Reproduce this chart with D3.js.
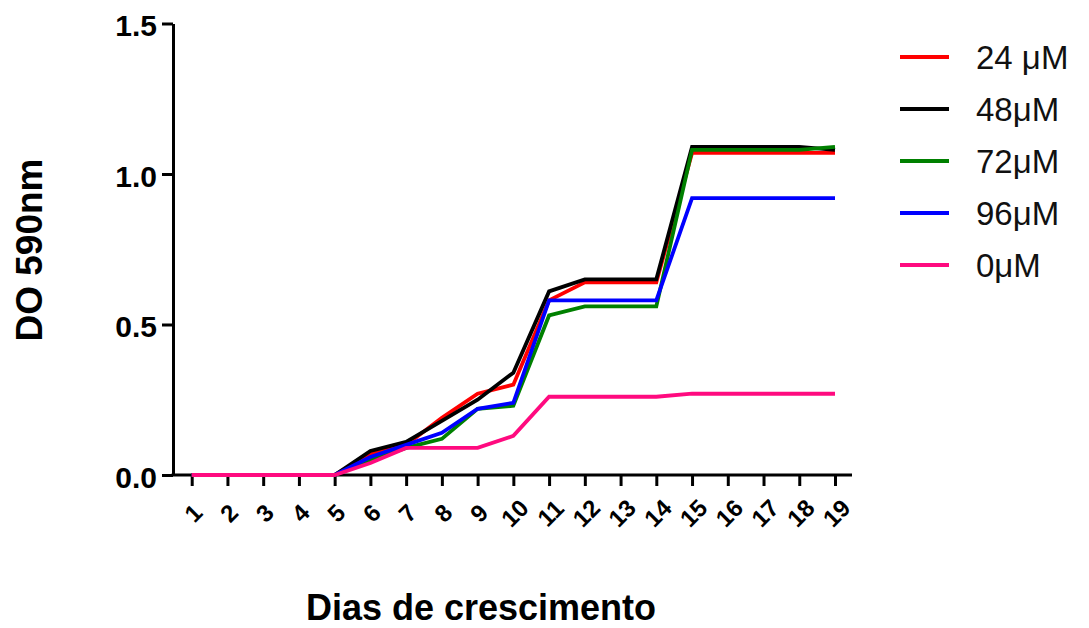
<!DOCTYPE html>
<html>
<head>
<meta charset="utf-8">
<script src="https://cdn.jsdelivr.net/npm/d3@7"></script>
<style>
  body { margin: 0; background: #fff; }
  text { font-family: Arial, "Liberation Sans", sans-serif; }
</style>
</head>
<body>
<svg width="1089" height="628"></svg>
<script>
// days of growth (x axis)
const days = [1, 2, 3, 4, 5, 6, 7, 8, 9, 10, 11, 12, 13, 14, 15, 16, 17, 18, 19]

// OD 590nm per concentration
const conc24 = [0, 0, 0, 0, 0, 0.07, 0.10, 0.19, 0.27, 0.30, 0.58, 0.64, 0.64, 0.64, 1.07, 1.07, 1.07, 1.07, 1.07]
const conc48 = [0, 0, 0, 0, 0, 0.08, 0.11, 0.18, 0.25, 0.34, 0.61, 0.65, 0.65, 0.65, 1.09, 1.09, 1.09, 1.09, 1.08]
const conc72 = [0, 0, 0, 0, 0, 0.05, 0.09, 0.12, 0.22, 0.23, 0.53, 0.56, 0.56, 0.56, 1.08, 1.08, 1.08, 1.08, 1.09]
const conc96 = [0, 0, 0, 0, 0, 0.06, 0.10, 0.14, 0.22, 0.24, 0.58, 0.58, 0.58, 0.58, 0.92, 0.92, 0.92, 0.92, 0.92]
const conc0  = [0, 0, 0, 0, 0, 0.04, 0.09, 0.09, 0.09, 0.13, 0.26, 0.26, 0.26, 0.26, 0.27, 0.27, 0.27, 0.27, 0.27]

const seriesNames = ["24 μM", "48μM", "72μM", "96μM", "0μM"]
const seriesValues = [conc24, conc48, conc72, conc96, conc0]
const yTicks = [0, 0.5, 1.0, 1.5]

const colors = ["#ff0000", "#000000", "#008000", "#0000ff", "#ff0a7f"]

const svg = d3.select("svg")

// scales
const x = d3.scaleLinear().domain([1, 19]).range([191.7, 835])
const y = d3.scaleLinear().domain([0, 1.5]).range([475, 23.5])
const axisX = 173

// y axis
const yAxis = svg.append("g")
    .attr("transform", `translate(${axisX},0)`)
    .call(d3.axisLeft(y)
        .tickValues(yTicks)
        .tickFormat(d3.format(".1f"))
        .tickSize(11)
        .tickSizeOuter(0)
        .tickPadding(5))
yAxis.select(".domain").attr("stroke-width", 3)
yAxis.selectAll(".tick line").attr("stroke-width", 3)
yAxis.selectAll(".tick text")
    .attr("font-size", 30)
    .attr("font-weight", "bold")
    .attr("dy", "0.4em")
    .attr("fill", "#000")

// x axis
const xAxis = svg.append("g")
    .attr("transform", `translate(0,${y(0)})`)
    .call(d3.axisBottom(x)
        .tickValues(days)
        .tickSize(11)
        .tickSizeOuter(0))
xAxis.select(".domain").remove()
xAxis.append("line")
    .attr("x1", axisX - 1.5)
    .attr("x2", x(19) + 17)
    .attr("stroke", "#000")
    .attr("stroke-width", 3)
xAxis.selectAll(".tick line").attr("stroke-width", 3)
xAxis.selectAll(".tick text")
    .attr("font-size", 24)
    .attr("font-weight", "bold")
    .attr("fill", "#000")
    .attr("y", 0)
    .attr("dy", "0.35em")
    .attr("text-anchor", "middle")
    .attr("transform", "translate(1,38) rotate(-45)")

// lines, drawn in legend order
const line = d3.line()
    .x((d, i) => x(days[i]))
    .y(d => y(d))

svg.append("g")
    .selectAll("path")
    .data(seriesValues)
    .join("path")
      .attr("d", line)
      .attr("fill", "none")
      .attr("stroke", (d, i) => colors[i])
      .attr("stroke-width", 3.8)

// legend
const legend = svg.append("g")
    .selectAll("g")
    .data(seriesNames)
    .join("g")
      .attr("transform", (d, i) => `translate(900,${57 + i * 52})`)
legend.append("line")
    .attr("x1", 0)
    .attr("x2", 49)
    .attr("stroke", (d, i) => colors[i])
    .attr("stroke-width", 3.8)
legend.append("text")
    .attr("x", 76)
    .attr("dy", "0.36em")
    .attr("font-size", 33)
    .attr("fill", "#111")
    .text(d => d)

// axis titles
svg.append("text")
    .attr("transform", "translate(42,250) rotate(-90)")
    .attr("text-anchor", "middle")
    .attr("font-size", 37)
    .attr("font-weight", "bold")
    .text("DO 590nm")

svg.append("text")
    .attr("x", 481)
    .attr("y", 620)
    .attr("text-anchor", "middle")
    .attr("font-size", 36)
    .attr("font-weight", "bold")
    .text("Dias de crescimento")
</script>
</body>
</html>
